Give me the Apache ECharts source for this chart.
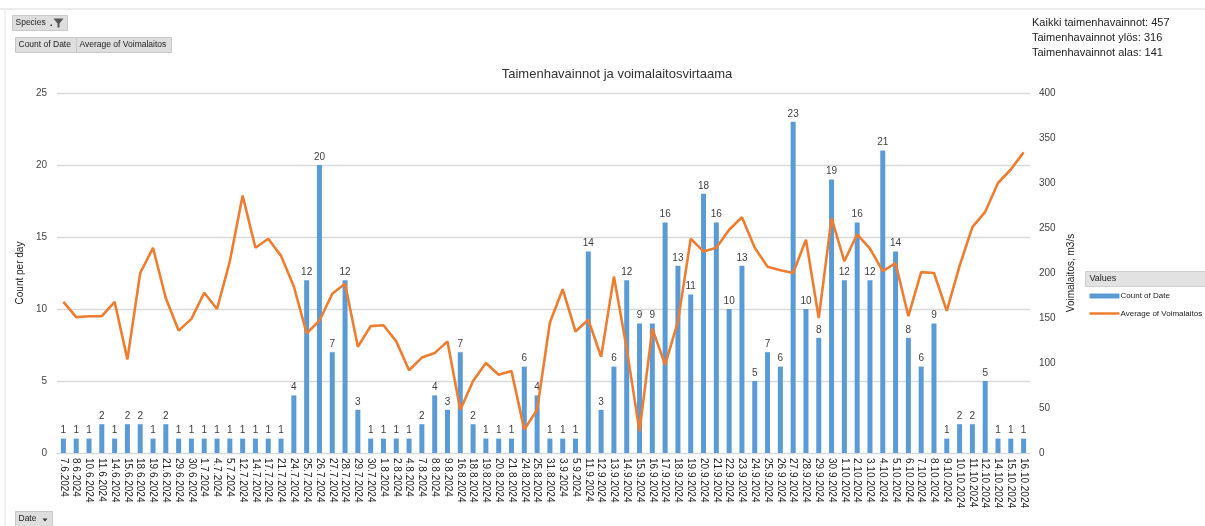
<!DOCTYPE html>
<html>
<head>
<meta charset="utf-8">
<script src="https://cdn.jsdelivr.net/npm/echarts@6/dist/echarts.min.js"></script>
<style>
html,body{margin:0;padding:0;background:#fff;}
#chart{width:1205px;height:526px;}
</style>
</head>
<body>
<div id="chart"></div>
<script>
const categories = ["7.6.2024","8.6.2024","10.6.2024","11.6.2024","14.6.2024","15.6.2024","18.6.2024","19.6.2024","21.6.2024","29.6.2024","30.6.2024","1.7.2024","4.7.2024","5.7.2024","12.7.2024","14.7.2024","17.7.2024","21.7.2024","24.7.2024","25.7.2024","26.7.2024","27.7.2024","28.7.2024","29.7.2024","30.7.2024","1.8.2024","2.8.2024","4.8.2024","7.8.2024","8.8.2024","9.8.2024","16.8.2024","18.8.2024","19.8.2024","20.8.2024","21.8.2024","24.8.2024","25.8.2024","31.8.2024","3.9.2024","5.9.2024","11.9.2024","12.9.2024","13.9.2024","14.9.2024","15.9.2024","16.9.2024","17.9.2024","18.9.2024","19.9.2024","20.9.2024","21.9.2024","22.9.2024","23.9.2024","24.9.2024","25.9.2024","26.9.2024","27.9.2024","28.9.2024","29.9.2024","30.9.2024","1.10.2024","2.10.2024","3.10.2024","4.10.2024","5.10.2024","6.10.2024","7.10.2024","8.10.2024","9.10.2024","10.10.2024","11.10.2024","12.10.2024","14.10.2024","15.10.2024","16.10.2024"];

const countOfDate = [1,1,1,2,1,2,2,1,2,1,1,1,1,1,1,1,1,1,4,12,20,7,12,3,1,1,1,1,2,4,3,7,2,1,1,1,6,4,1,1,1,14,3,6,12,9,9,16,13,11,18,16,10,13,5,7,6,23,10,8,19,12,16,12,21,14,8,6,9,1,2,2,5,1,1,1];

const averageOfVoimalaitos = [168,151,152,152,168,104,200,228,172,136,149,178,160,213,286,228,238,219,185,133,147,177,188,118,141,142,124,92,106,111,124,48,80,100,87,91,26,48,145,182,135,148,107,196,116,24,138,98,146,238,224,228,248,262,228,207,203,200,237,150,261,213,243,227,202,211,152,201,200,158,208,251,268,300,315,334];

const leftTicks = [0,5,10,15,20,25];
const rightTicks = [0,50,100,150,200,250,300,350,400];

const seriesNames = ["Count of Date","Average of Voimalaitos"];
const summaryLines = ["Kaikki taimenhavainnot: 457","Taimenhavainnot ylös: 316","Taimenhavainnot alas: 141"];

const FONT = "'Liberation Sans', Arial, sans-serif";
const BLUE = '#5b9bd5', ORANGE = '#ed7d31';
const chart = echarts.init(document.getElementById('chart'), null, {renderer:'canvas'});

const btn = (x,y,w,h,txt,extra) => ({
  type:'group', left:x, top:y,
  children:[
    {type:'rect', shape:{x:0,y:0,width:w,height:h}, style:{fill:'#dedede', stroke:'#c8c8c8', lineWidth:1}},
    {type:'text', style:{x:3, y:h/2, text:txt, font:'8.5px '+FONT, fill:'#222', verticalAlign:'middle'}}
  ].concat(extra||[])
});

const option = {
  backgroundColor:'#fff',
  animation:false,
  title:{
    text:'Taimenhavainnot ja voimalaitosvirtaama',
    left:612, top:63, textAlign:'center',
    textStyle:{fontFamily:FONT, fontSize:13, fontWeight:'normal', color:'#333'}
  },
  grid:{left:57, right:175, top:93, bottom:73, containLabel:false},
  xAxis:{
    type:'category', data:categories,
    axisTick:{show:false},
    axisLine:{lineStyle:{color:'#d9d9d9', width:1}},
    axisLabel:{interval:0, rotate:-90, fontFamily:FONT, fontSize:10, color:'#222', margin:5}
  },
  yAxis:[
    {
      type:'value', min:leftTicks[0], max:leftTicks[leftTicks.length-1], interval:5,
      name:'Count per day', nameLocation:'middle', nameGap:24, nameRotate:90,
      nameTextStyle:{fontFamily:FONT, fontSize:10, color:'#222'},
      axisLabel:{fontFamily:FONT, fontSize:10, color:'#444', margin:10},
      axisLine:{show:false}, axisTick:{show:false},
      splitLine:{lineStyle:{color:'#d9d9d9', width:1.3}}
    },
    {
      type:'value', min:rightTicks[0], max:rightTicks[rightTicks.length-1], interval:50,
      name:'Voimalaitos, m3/s', nameLocation:'middle', nameGap:30, nameRotate:90,
      nameTextStyle:{fontFamily:FONT, fontSize:10, color:'#222'},
      axisLabel:{fontFamily:FONT, fontSize:10, color:'#444', margin:9},
      axisLine:{show:false}, axisTick:{show:false},
      splitLine:{show:false}
    }
  ],
  series:[
    {
      name:seriesNames[0], type:'bar', yAxisIndex:0, data:countOfDate,
      barWidth:5,
      itemStyle:{color:BLUE},
      label:{show:true, position:'top', distance:3, fontFamily:FONT, fontSize:10, color:'#404040'}
    },
    {
      name:seriesNames[1], type:'line', yAxisIndex:1, data:averageOfVoimalaitos,
      symbol:'none', z:3,
      lineStyle:{color:ORANGE, width:2.6},
      itemStyle:{color:ORANGE}
    }
  ],
  graphic:[
    {type:'line', shape:{x1:0,y1:9,x2:1205,y2:9}, style:{stroke:'#d9d9d9', lineWidth:1}},
    {type:'line', shape:{x1:5,y1:9,x2:5,y2:526}, style:{stroke:'#e6e6e6', lineWidth:1}},
    btn(12,15,55,15,'Species', [
      {type:'rect', shape:{x:38,y:9,width:1.5,height:1.5}, style:{fill:'#333'}},
      {type:'polygon', shape:{points:[[41,3],[51,3],[47,8],[47,12],[45,12],[45,8]]}, style:{fill:'#555'}}
    ]),
    btn(15,37,61,15,'Count of Date'),
    btn(76,37,95,15,'Average of Voimalaitos'),
    btn(15,511,37,15,'Date', [
      {type:'polygon', shape:{points:[[27,7],[32,7],[29.5,10]]}, style:{fill:'#333'}}
    ]),
    {type:'group', left:1085, top:271, children:[
      {type:'rect', shape:{x:0,y:0,width:120,height:15}, style:{fill:'#e2e2e2', stroke:'#cfcfcf', lineWidth:1}},
      {type:'text', style:{x:4, y:7.5, text:'Values', font:'9px '+FONT, fill:'#222', verticalAlign:'middle'}},
      {type:'rect', shape:{x:4, y:22, width:30, height:5}, style:{fill:BLUE}},
      {type:'text', style:{x:35, y:24.5, text:seriesNames[0], font:'8px '+FONT, fill:'#222', verticalAlign:'middle'}},
      {type:'line', shape:{x1:4, y1:42, x2:34, y2:42}, style:{stroke:ORANGE, lineWidth:2.5}},
      {type:'text', style:{x:35, y:42, text:seriesNames[1], font:'8px '+FONT, fill:'#222', verticalAlign:'middle'}}
    ]},
    {type:'text', left:1032, top:15, style:{text:summaryLines.join('\n'), font:'11px '+FONT, lineHeight:15, fill:'#222'}}
  ]
};
chart.setOption(option);
</script>
</body>
</html>
